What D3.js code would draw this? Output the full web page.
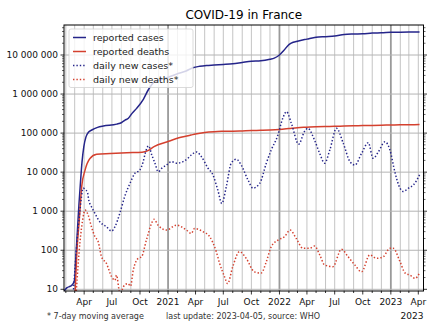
<!DOCTYPE html>
<html><head><meta charset="utf-8">
<script src="https://cdn.jsdelivr.net/npm/d3@7"></script>
<style>body{margin:0;background:#fff}svg{display:block;font-family:"DejaVu Sans",sans-serif}</style>
</head><body><svg id="c" width="440" height="330"></svg>
<script>
// ---- data ----
const cumCasesDates = ["2020-01-26","2020-02-05","2020-02-16","2020-02-25","2020-03-01","2020-03-05","2020-03-10","2020-03-15","2020-03-20","2020-03-25","2020-03-31","2020-04-07","2020-04-15","2020-04-26","2020-05-15","2020-06-03","2020-07-17","2020-08-02","2020-08-13","2020-08-24","2020-09-05","2020-09-20","2020-10-12","2020-10-28","2020-11-15","2020-12-01","2021-01-01","2021-02-01","2021-03-01","2021-03-23","2021-04-15","2021-05-07","2021-06-01","2021-07-01","2021-08-01","2021-09-01","2021-10-01","2021-11-01","2021-12-01","2021-12-15","2022-01-01","2022-01-15","2022-02-01","2022-02-15","2022-03-01","2022-04-01","2022-05-01","2022-06-01","2022-07-01","2022-08-01","2022-09-01","2022-10-01","2022-11-01","2022-12-01","2023-01-01","2023-02-01","2023-03-01","2023-04-05"];
const cumCasesValues = [9,11,12,14,18,70,320,1500,5500,18000,45000,80000,105000,120000,140000,152000,170000,187000,215000,240000,320000,430000,735000,1270000,2000000,2250000,2700000,3300000,3900000,4700000,5150000,5400000,5550000,5750000,6000000,6450000,6900000,7100000,7800000,8300000,10000000,13000000,18500000,21200000,22600000,25500000,28500000,29500000,30500000,33500000,34500000,35000000,36500000,37000000,38000000,38500000,38800000,39000000];

const cumDeathsDates = ["2020-02-28","2020-03-02","2020-03-08","2020-03-16","2020-03-24","2020-04-04","2020-04-20","2020-05-12","2020-06-25","2020-08-19","2020-10-08","2020-10-25","2020-11-16","2020-12-30","2021-02-12","2021-03-17","2021-04-01","2021-05-01","2021-06-01","2021-07-01","2021-08-01","2021-09-01","2021-10-01","2021-11-01","2021-12-01","2022-01-01","2022-02-01","2022-03-01","2022-04-01","2022-05-01","2022-06-01","2022-07-01","2022-08-01","2022-09-01","2022-10-01","2022-11-01","2022-12-01","2023-01-01","2023-02-01","2023-03-01","2023-04-05"];
const cumDeathsValues = [2,7,84,590,4300,11300,22400,28700,30000,31500,32500,35000,45000,60000,78000,89000,95000,104000,109000,111000,112000,114000,116500,118000,120000,124000,131000,138000,142000,146000,148000,149000,152500,154500,155500,157500,159000,161500,163000,164000,165000];

const newCasesDates = ["2020-02-20","2020-02-27","2020-03-08","2020-03-18","2020-03-29","2020-04-05","2020-04-11","2020-04-17","2020-04-25","2020-05-06","2020-05-22","2020-06-13","2020-06-30","2020-07-11","2020-07-27","2020-08-12","2020-08-29","2020-09-14","2020-09-30","2020-10-11","2020-10-18","2020-10-29","2020-11-09","2020-11-19","2020-11-30","2020-12-11","2020-12-27","2021-01-12","2021-01-29","2021-02-19","2021-03-07","2021-03-18","2021-04-04","2021-04-20","2021-05-12","2021-05-28","2021-06-13","2021-06-26","2021-07-11","2021-07-27","2021-08-13","2021-08-29","2021-09-20","2021-10-06","2021-10-28","2021-11-19","2021-12-05","2021-12-25","2022-01-12","2022-01-24","2022-02-09","2022-03-05","2022-03-24","2022-04-04","2022-04-26","2022-05-13","2022-05-29","2022-06-15","2022-07-07","2022-07-29","2022-08-20","2022-09-05","2022-09-27","2022-10-19","2022-11-04","2022-11-21","2022-12-13","2022-12-29","2023-01-14","2023-01-31","2023-02-11","2023-02-28","2023-03-16","2023-04-05"];
const newCasesValues = [2,12,150,1000,3900,3500,3200,1800,1300,890,540,400,310,400,890,2400,5100,9300,11200,18000,30000,47000,27000,17000,10200,12500,15200,18600,17000,18600,22600,27500,33000,25000,12600,8500,3500,1580,4300,17000,21400,15000,6300,3900,5100,17000,37000,81000,240000,355000,178000,52000,110000,133000,66000,30000,17000,37000,133000,55000,18600,15200,30000,57000,22600,33000,60000,37000,10200,3900,3200,3900,4700,8500];

const newDeathsDates = ["2020-02-28","2020-03-06","2020-03-18","2020-03-27","2020-04-04","2020-04-14","2020-04-25","2020-05-06","2020-05-17","2020-05-28","2020-06-13","2020-06-30","2020-07-11","2020-07-16","2020-07-27","2020-08-12","2020-08-23","2020-08-31","2020-09-09","2020-09-25","2020-10-06","2020-10-22","2020-11-08","2020-11-16","2020-11-29","2020-12-27","2021-01-29","2021-03-02","2021-03-18","2021-03-29","2021-04-25","2021-05-17","2021-06-08","2021-06-19","2021-07-05","2021-07-15","2021-08-01","2021-08-23","2021-09-14","2021-10-11","2021-11-02","2021-11-19","2021-12-05","2021-12-27","2022-01-18","2022-02-05","2022-02-25","2022-03-19","2022-04-09","2022-04-26","2022-05-13","2022-05-29","2022-06-25","2022-07-23","2022-08-14","2022-09-05","2022-09-27","2022-10-24","2022-11-15","2022-12-07","2022-12-29","2023-01-09","2023-01-31","2023-02-17","2023-03-05","2023-03-21","2023-04-05"];
const newDeathsValues = [1,8,150,590,1070,800,400,225,166,68,46,21,17,23,8,13,14,12,31,62,68,182,490,620,440,330,440,330,270,360,300,225,92,46,21,14,38,92,62,28,26,51,123,182,225,330,200,112,112,128,76,42,38,106,68,42,28,76,62,68,112,112,51,26,23,19,26];

const yTickValues = [10,100,1000,10000,100000,1000000,10000000];
const yTickLabels = ["10","100","1 000","10 000","100 000","1 000 000","10 000 000"];
const seriesNames = ["reported cases","reported deaths","daily new cases*","daily new deaths*"];
const titleText = "COVID-19 in France";
const footLeft = "* 7-day moving average";
const footMid = "last update: 2023-04-05, source: WHO";

// ---- layout ----
const L = 64, R = 423.5, T = 25, B = 291;
const parse = d3.timeParse("%Y-%m-%d");
const x = d3.scaleTime().domain([parse("2020-01-26"), parse("2023-04-18")]).range([L, R]);
const y = d3.scaleLog().domain([10, 1e7]).range([289.3, 55]);
const navy = "#25258a", red = "#d4402e";

const svg = d3.select("#c");
svg.append("defs").append("clipPath").attr("id","clip")
  .append("rect").attr("x",L).attr("y",T).attr("width",R-L).attr("height",B-T);

// grid
const months = d3.timeMonth.range(d3.timeMonth.ceil(x.domain()[0]), x.domain()[1]);
const grid = svg.append("g");
grid.selectAll("line.m").data(months).join("line")
  .attr("x1", d => x(d)).attr("x2", d => x(d)).attr("y1", T).attr("y2", B)
  .attr("stroke", d => d.getMonth() === 0 ? "#9a9a9a" : "#c4c4c4")
  .attr("stroke-width", d => d.getMonth() === 0 ? 1.8 : 1);
grid.selectAll("line.h").data(yTickValues).join("line")
  .attr("x1", L).attr("x2", R).attr("y1", d => y(d)).attr("y2", d => y(d))
  .attr("stroke", "#b4b4b4").attr("stroke-width", 1);

// lines
const plot = svg.append("g").attr("clip-path","url(#clip)");
function mk(dates, vals){ return dates.map((d,i)=>({t:parse(d), v:vals[i]})); }
const line = d3.line().x(d => x(d.t)).y(d => y(d.v)).curve(d3.curveMonotoneX);
const series = [
  {data: mk(cumCasesDates, cumCasesValues), color: navy, dash: null},
  {data: mk(cumDeathsDates, cumDeathsValues), color: red, dash: null},
  {data: mk(newCasesDates, newCasesValues), color: navy, dash: "1.4,2"},
  {data: mk(newDeathsDates, newDeathsValues), color: red, dash: "1.4,2"}
];
series.forEach(s => {
  plot.append("path").datum(s.data).attr("d", line).attr("fill","none")
    .attr("stroke", s.color).attr("stroke-width", 1.5)
    .attr("stroke-dasharray", s.dash);
});

// frame
svg.append("rect").attr("x",L).attr("y",T).attr("width",R-L).attr("height",B-T)
  .attr("fill","none").attr("stroke","#000").attr("stroke-width",1);

// y ticks (major + minor, both sides)
const minor = [];
for (let e = 0; e <= 7; e++) for (let m = 2; m <= 9; m++) { const v = m*Math.pow(10,e); if (y(v) >= T && y(v) <= B) minor.push(v); }
const ax = svg.append("g").attr("stroke","#000").attr("stroke-width",0.8);
[L, R].forEach((edge, k) => {
  const dir = k === 0 ? -1 : 1;
  ax.selectAll(null).data(yTickValues).join("line")
    .attr("x1", edge).attr("x2", edge + dir*3.5).attr("y1", d=>y(d)).attr("y2", d=>y(d));
  ax.selectAll(null).data(minor).join("line")
    .attr("x1", edge).attr("x2", edge + dir*2).attr("y1", d=>y(d)).attr("y2", d=>y(d)).attr("stroke-width",0.6);
});
svg.append("g").selectAll("text").data(yTickValues).join("text")
  .attr("x", L - 6).attr("y", d => y(d)).attr("dy","0.35em").attr("text-anchor","end")
  .attr("font-size", 9).attr("fill","#111").text((d,i) => yTickLabels[i]);

// x ticks
ax.selectAll(null).data(months).join("line")
  .attr("x1", d=>x(d)).attr("x2", d=>x(d)).attr("y1", B).attr("y2", d => B + (d.getMonth()%3===0 ? 3.5 : 2));
const qMonths = months.filter(d => d.getMonth() % 3 === 0);
svg.append("g").selectAll("text").data(qMonths).join("text")
  .attr("x", d=>x(d)).attr("y", 305).attr("text-anchor","middle").attr("font-size",9).attr("fill","#111")
  .text(d => d.getMonth()===0 ? d3.timeFormat("%Y")(d) : d3.timeFormat("%b")(d));
svg.append("text").attr("x", R).attr("y", 319).attr("text-anchor","end").attr("font-size",9).attr("fill","#111")
  .text(d3.timeFormat("%Y")(x.domain()[1]));

// title
svg.append("text").attr("x",(L+R)/2).attr("y",19).attr("text-anchor","middle").attr("font-size",12).attr("fill","#000").text(titleText);

// footnotes
svg.append("text").attr("x",47).attr("y",318.5).attr("font-size",8).attr("fill","#333").text(footLeft);
svg.append("text").attr("x",166).attr("y",318.5).attr("font-size",8).attr("fill","#333").text(footMid);

// legend
const lg = svg.append("g");
lg.append("rect").attr("x",69).attr("y",29).attr("width",124).attr("height",58.5).attr("rx",2)
  .attr("fill","#fff").attr("fill-opacity",0.8).attr("stroke","#d2d2d2").attr("stroke-width",0.8);
series.forEach((s,i) => {
  const cy = 37.5 + i*14;
  lg.append("line").attr("x1",73).attr("x2",86).attr("y1",cy).attr("y2",cy)
    .attr("stroke",s.color).attr("stroke-width",1.5).attr("stroke-dasharray",s.dash);
  lg.append("text").attr("x",93).attr("y",cy).attr("dy","0.33em").attr("font-size",9.5).attr("fill","#222").text(seriesNames[i]);
});
</script></body></html>
